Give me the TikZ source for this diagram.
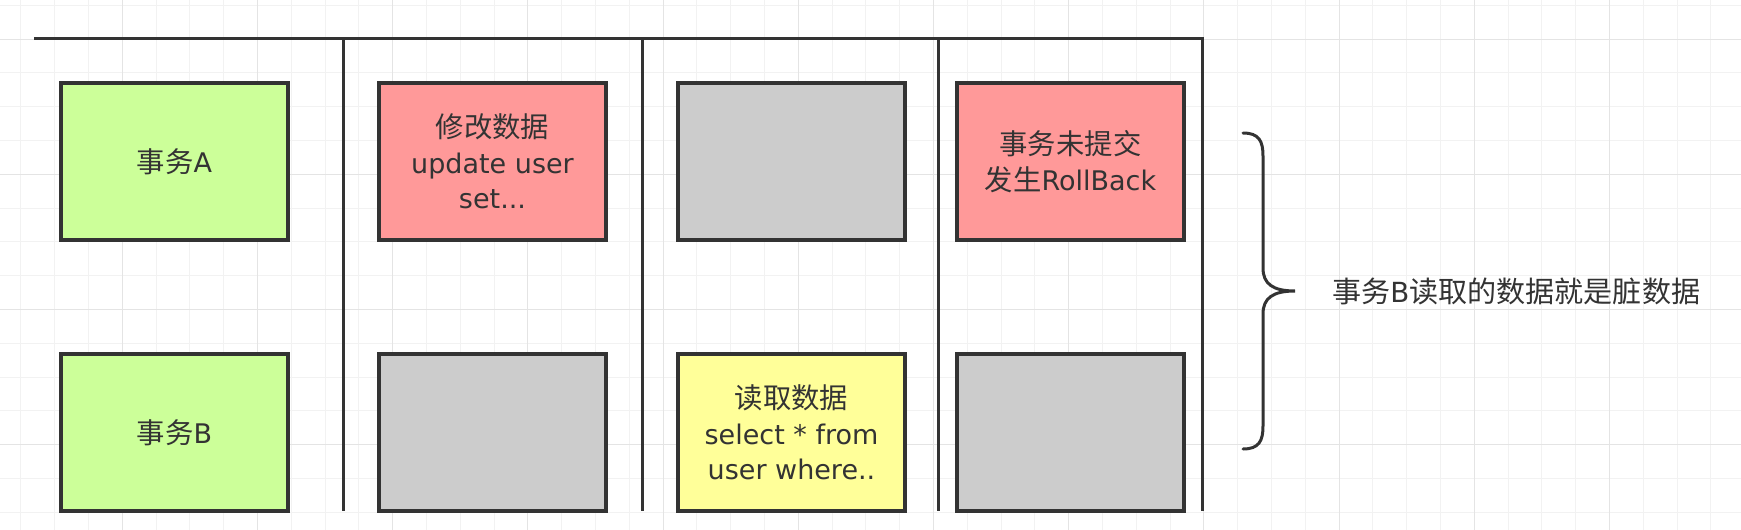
\documentclass[tikz,border=0pt]{standalone}
\usepackage{fontspec}
\setmainfont{DejaVu Sans}
\newfontfamily\cjkfont[Scale=1.05]{Noto Sans CJK SC}
\newcommand\zh[1]{{\cjkfont #1}}
\definecolor{boxgreen}{HTML}{CCFF99}
\definecolor{boxpink}{HTML}{FF9999}
\definecolor{boxgray}{HTML}{CCCCCC}
\definecolor{boxyellow}{HTML}{FFFF99}
\definecolor{ink}{HTML}{333333}
\definecolor{gridminor}{HTML}{F2F2F2}
\definecolor{gridmajor}{HTML}{E4E4E4}
\begin{document}
\begin{tikzpicture}[x=1pt,y=-1pt,
  cell/.style={draw=ink, line width=3.2pt, minimum width=227pt, minimum height=157pt, inner sep=0pt, align=center, text=ink, font=\fontsize{27}{35.5}\selectfont},
  rule/.style={draw=ink, line width=3pt},
  minorgrid/.style={draw=gridminor, line width=1pt},
  majorgrid/.style={draw=gridmajor, line width=1pt}]
\useasboundingbox (0,0) rectangle (1741,530);
\fill[white] (0,0) rectangle (1741,530);
% grid
\foreach \i in {1,...,52} \draw[minorgrid] ({-13+33.8*\i},0) -- ({-13+33.8*\i},530);
\foreach \j in {0,...,15} \draw[minorgrid] (0,{5.2+33.8*\j}) -- (1741,{5.2+33.8*\j});
\foreach \i in {1,...,13} \draw[majorgrid] ({-13+135.2*\i},0) -- ({-13+135.2*\i},530);
\foreach \j in {0,...,3} \draw[majorgrid] (0,{39+135.2*\j}) -- (1741,{39+135.2*\j});
% frame lines
\coordinate (tl) at (34,38);
\coordinate (tr) at (1202,38);
\coordinate (v1t) at (343,38);  \coordinate (v1b) at (343,511);
\coordinate (v2t) at (642,38);  \coordinate (v2b) at (642,511);
\coordinate (v3t) at (938,38);  \coordinate (v3b) at (938,511);
\coordinate (v4b) at (1202,511);
\draw[rule] (tl) -- (tr) -- (v4b);
\draw[rule] (v1t) -- (v1b);
\draw[rule] (v2t) -- (v2b);
\draw[rule] (v3t) -- (v3b);
% boxes row 1
\node[cell, fill=boxgreen] (ta) at (174.5,161.5) {\zh{事务}A};
\node[cell, fill=boxpink] (upd) at (492.5,161.5) {\zh{修改数据}\\update user\\set...};
\node[cell, fill=boxgray] (g1) at (791.5,161.5) {};
\node[cell, fill=boxpink] (rb) at (1070.5,161.5) {\zh{事务未提交}\\\zh{发生}RollBack};
% boxes row 2
\node[cell, fill=boxgreen] (tb) at (174.5,432.5) {\zh{事务}B};
\node[cell, fill=boxgray] (g2) at (492.5,432.5) {};
\node[cell, fill=boxyellow] (rd) at (791.5,432.5) {\zh{读取数据}\\select * from\\user where..};
\node[cell, fill=boxgray] (g3) at (1070.5,432.5) {};
% brace
\coordinate (bt) at (1243,133);
\coordinate (bm) at (1295,291);
\coordinate (bb) at (1243,449);
\draw[rule, line cap=round] (bt) .. controls (1259,133) and (1263,141) .. (1263,156) -- (1263,268)
  .. controls (1263,284) and (1273,291) .. (bm)
  .. controls (1273,291) and (1263,298) .. (1263,314) -- (1263,426)
  .. controls (1263,441) and (1259,449) .. (bb);
\node[anchor=west, text=ink, font=\fontsize{27.7}{35}\selectfont, inner sep=0pt] (lbl) at (1332,291) {\zh{事务}B\zh{读取的数据就是脏数据}};
\end{tikzpicture}
\end{document}
